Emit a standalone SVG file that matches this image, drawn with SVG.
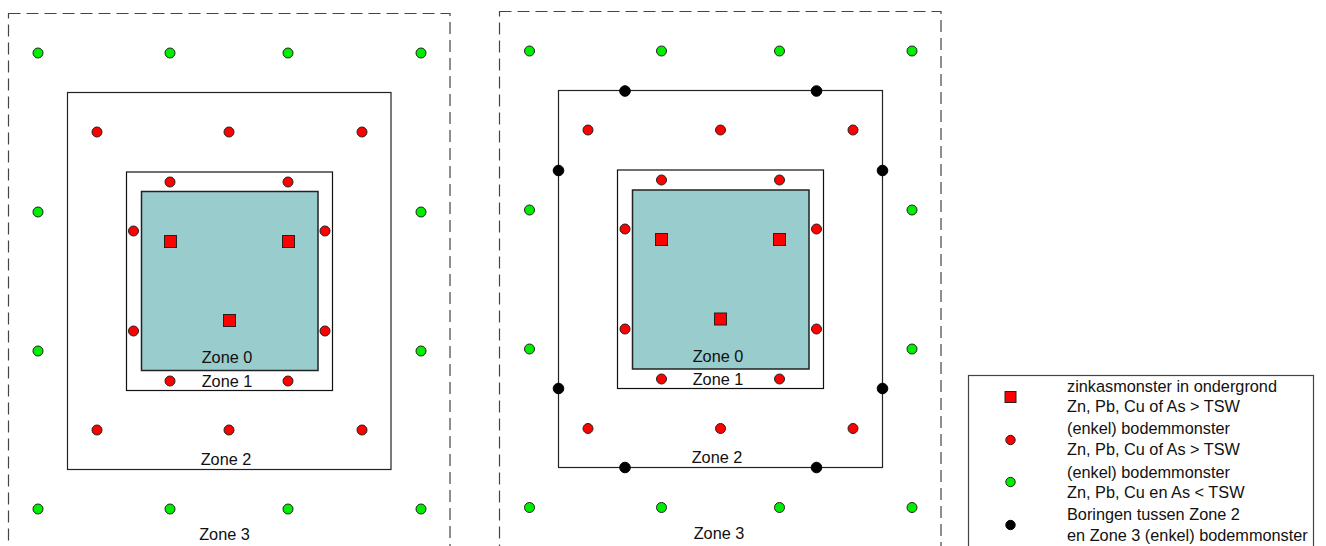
<svg xmlns="http://www.w3.org/2000/svg" width="1326" height="546" viewBox="0 0 1326 546">
<defs>
<style>
.dash{fill:none;stroke:#444;stroke-width:1.2;stroke-dasharray:12 6}
.z2{fill:none;stroke:#222;stroke-width:1.2}
.z1{fill:#fff;stroke:#111;stroke-width:1.2}
.z0{fill:#99cccc;stroke:#222;stroke-width:1.5}
.r{fill:#ff0000;stroke:#222;stroke-width:1}
.g{fill:#00ee00;stroke:#222;stroke-width:1}
.k{fill:#000;stroke:#000;stroke-width:1}
.sq{fill:#ff0000;stroke:#222;stroke-width:1}
.t{font-family:"Liberation Sans",Arial,sans-serif;font-size:16.3px;fill:#111}
.c{text-anchor:middle}
</style>
</defs>
<g id="plan">
<rect class="dash" x="8.5" y="13.5" width="441.5" height="560"/>
<circle class="g" cx="38" cy="53" r="5"/><circle class="g" cx="170" cy="53" r="5"/><circle class="g" cx="288" cy="53" r="5"/><circle class="g" cx="421" cy="53" r="5"/>
<circle class="g" cx="38" cy="212" r="5"/><circle class="g" cx="421" cy="212" r="5"/>
<circle class="g" cx="38" cy="351" r="5"/><circle class="g" cx="421" cy="351" r="5"/>
<circle class="g" cx="38" cy="509" r="5"/><circle class="g" cx="170" cy="509" r="5"/><circle class="g" cx="288" cy="509" r="5"/><circle class="g" cx="421" cy="509" r="5"/>
<rect class="z2" x="67.5" y="92.5" width="323.5" height="377"/>
<circle class="r" cx="97" cy="132" r="5"/><circle class="r" cx="229" cy="132" r="5"/><circle class="r" cx="362" cy="132" r="5"/>
<circle class="r" cx="97" cy="430" r="5"/><circle class="r" cx="229" cy="430" r="5"/><circle class="r" cx="362" cy="430" r="5"/>
<rect class="z1" x="126.5" y="172" width="206" height="218.5"/>
<rect class="z0" x="141.5" y="191.5" width="176.5" height="179"/>
<circle class="r" cx="170" cy="182" r="5"/><circle class="r" cx="288" cy="182" r="5"/>
<circle class="r" cx="133.5" cy="231" r="5"/><circle class="r" cx="325" cy="231" r="5"/>
<circle class="r" cx="133.5" cy="331" r="5"/><circle class="r" cx="325" cy="331" r="5"/>
<circle class="r" cx="170" cy="381" r="5"/><circle class="r" cx="288" cy="381" r="5"/>
<rect class="sq" x="164.5" y="235.5" width="12" height="12"/>
<rect class="sq" x="282.5" y="235.5" width="12" height="12"/>
<rect class="sq" x="223.5" y="314.5" width="12" height="12"/>
<text class="t c" x="227" y="363">Zone 0</text>
<text class="t c" x="227" y="387">Zone 1</text>
<text class="t c" x="226" y="465">Zone 2</text>
<text class="t c" x="224.5" y="540">Zone 3</text>
</g>
<g id="plan-borings">
<rect class="dash" x="499.5" y="11.5" width="441.5" height="560"/>
<circle class="g" cx="529.5" cy="51" r="5"/><circle class="g" cx="661.5" cy="51" r="5"/><circle class="g" cx="779.5" cy="51" r="5"/><circle class="g" cx="912" cy="51" r="5"/>
<circle class="g" cx="529.5" cy="210" r="5"/><circle class="g" cx="912" cy="210" r="5"/>
<circle class="g" cx="529.5" cy="349" r="5"/><circle class="g" cx="912" cy="349" r="5"/>
<circle class="g" cx="529.5" cy="507.5" r="5"/><circle class="g" cx="661.5" cy="507.5" r="5"/><circle class="g" cx="779.5" cy="507.5" r="5"/><circle class="g" cx="912" cy="507.5" r="5"/>
<rect class="z2" x="558.5" y="90.5" width="324" height="377"/>
<circle class="r" cx="588" cy="130" r="5"/><circle class="r" cx="720.5" cy="130" r="5"/><circle class="r" cx="853" cy="130" r="5"/>
<circle class="r" cx="588" cy="428.5" r="5"/><circle class="r" cx="720.5" cy="428.5" r="5"/><circle class="r" cx="853" cy="428.5" r="5"/>
<rect class="z1" x="617.5" y="170" width="206" height="218.5"/>
<rect class="z0" x="632.5" y="190" width="176.5" height="179"/>
<circle class="r" cx="661.5" cy="180" r="5"/><circle class="r" cx="779.5" cy="180" r="5"/>
<circle class="r" cx="625" cy="229" r="5"/><circle class="r" cx="816.5" cy="229" r="5"/>
<circle class="r" cx="625" cy="329" r="5"/><circle class="r" cx="816.5" cy="329" r="5"/>
<circle class="r" cx="661.5" cy="379" r="5"/><circle class="r" cx="779.5" cy="379" r="5"/>
<rect class="sq" x="655.5" y="233.5" width="12" height="12"/>
<rect class="sq" x="773.5" y="233.5" width="12" height="12"/>
<rect class="sq" x="714.5" y="313" width="12" height="12"/>
<circle class="k" cx="625" cy="91" r="5.3"/><circle class="k" cx="816.5" cy="91" r="5.3"/>
<circle class="k" cx="558.5" cy="170.5" r="5.3"/><circle class="k" cx="882.5" cy="170.5" r="5.3"/>
<circle class="k" cx="558.5" cy="388.5" r="5.3"/><circle class="k" cx="882.5" cy="388.5" r="5.3"/>
<circle class="k" cx="625" cy="467.5" r="5.3"/><circle class="k" cx="816.5" cy="467.5" r="5.3"/>
<text class="t c" x="718" y="361.5">Zone 0</text>
<text class="t c" x="718" y="385">Zone 1</text>
<text class="t c" x="717" y="463">Zone 2</text>
<text class="t c" x="719" y="539">Zone 3</text>
</g>
<g id="legend">
<rect x="968.5" y="375.5" width="345" height="200" fill="#fff" stroke="#444" stroke-width="1.2"/>
<rect class="sq" x="1005" y="391.5" width="11" height="11"/>
<circle class="r" cx="1010.5" cy="440" r="4.7"/>
<circle class="g" cx="1010.5" cy="482" r="4.7"/>
<circle class="k" cx="1010.5" cy="525" r="4.7"/>
<text class="t" x="1067" y="391.5">zinkasmonster in ondergrond</text>
<text class="t" x="1067" y="411.5">Zn, Pb, Cu of As &gt; TSW</text>
<text class="t" x="1067" y="434">(enkel) bodemmonster</text>
<text class="t" x="1067" y="455">Zn, Pb, Cu of As &gt; TSW</text>
<text class="t" x="1067" y="477.5">(enkel) bodemmonster</text>
<text class="t" x="1067" y="498">Zn, Pb, Cu en As &lt; TSW</text>
<text class="t" x="1067" y="520">Boringen tussen Zone 2</text>
<text class="t" x="1067" y="540.5">en Zone 3 (enkel) bodemmonster</text>
</g>
</svg>
